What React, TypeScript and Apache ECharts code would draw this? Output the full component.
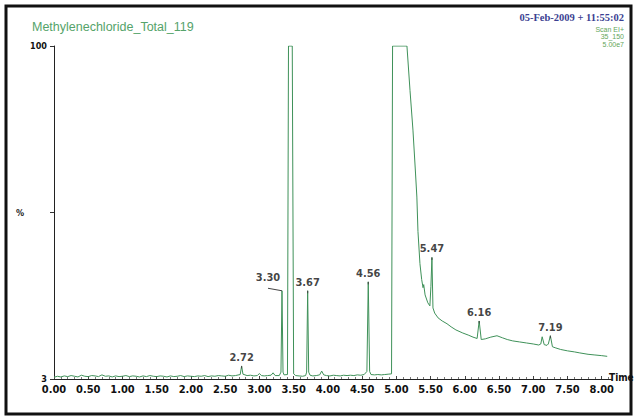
import React, { useEffect, useRef } from "react";
import * as echarts from "echarts";

const title = "Methylenechloride_Total_119";
const dateText = "05-Feb-2009 + 11:55:02";
const scanInfo = ["Scan EI+", "35_150", "5.00e7"];

const xTicks = [0, 0.5, 1, 1.5, 2, 2.5, 3, 3.5, 4, 4.5, 5, 5.5, 6, 6.5, 7, 7.5, 8];
const yLabels = [3, 100];

// chromatogram trace [time, %]
const trace: [number, number][] = [
  [0.0, 3.5], [0.05, 3.8], [0.1, 3.6], [0.15, 3.9], [0.2, 3.7], [0.25, 4.0], [0.3, 3.8], [0.35, 3.6],
  [0.4, 4.1], [0.45, 3.8], [0.5, 3.7], [0.55, 4.0], [0.6, 3.9], [0.65, 3.7], [0.7, 4.2], [0.75, 3.8],
  [0.8, 3.9], [0.85, 3.6], [0.9, 3.9], [0.95, 3.7], [1.0, 3.8], [1.05, 4.0], [1.1, 3.7], [1.15, 3.9],
  [1.2, 3.8], [1.25, 3.6], [1.3, 3.9], [1.35, 3.7], [1.4, 4.0], [1.45, 3.8], [1.5, 3.7], [1.55, 3.9],
  [1.6, 3.8], [1.65, 3.6], [1.7, 3.9], [1.75, 3.7], [1.8, 3.8], [1.85, 4.0], [1.9, 3.7], [1.95, 3.9],
  [2.0, 3.8], [2.05, 3.7], [2.1, 3.9], [2.15, 3.8], [2.2, 4.0], [2.25, 3.7], [2.3, 3.9], [2.35, 3.8],
  [2.4, 4.0], [2.45, 3.9], [2.5, 3.8], [2.55, 4.1], [2.6, 3.9], [2.65, 4.0], [2.72, 4.3], [2.74, 6.8],
  [2.76, 4.4], [2.82, 4.0], [2.87, 4.1], [2.92, 3.9], [2.97, 4.0], [3.0, 4.6], [3.03, 4.0], [3.07, 3.9],
  [3.12, 4.0], [3.17, 4.1], [3.2, 4.8], [3.23, 4.0], [3.29, 4.0], [3.315, 5.0], [3.33, 28.7], [3.345, 5.0],
  [3.36, 4.2], [3.41, 4.3], [3.425, 100], [3.48, 100], [3.5, 4.5], [3.53, 4.0], [3.58, 3.9], [3.63, 3.8],
  [3.675, 4.0], [3.69, 5.0], [3.705, 28.7], [3.72, 5.0], [3.74, 4.1], [3.78, 3.9], [3.83, 4.0], [3.88, 4.2],
  [3.91, 5.3], [3.94, 4.2], [3.98, 4.0], [4.03, 3.9], [4.08, 4.1], [4.13, 4.0], [4.18, 3.9], [4.23, 4.1],
  [4.28, 4.0], [4.33, 4.1], [4.38, 4.0], [4.43, 4.2], [4.48, 4.1], [4.53, 4.3], [4.57, 5.2], [4.59, 31.3],
  [4.61, 5.2], [4.63, 4.3], [4.68, 4.2], [4.73, 4.3], [4.78, 4.2], [4.83, 4.3], [4.88, 4.4], [4.93, 4.5],
  [4.945, 100], [5.155, 100], [5.2, 87], [5.243, 75.5], [5.28, 63], [5.3, 56], [5.316, 46], [5.345, 36.6],
  [5.37, 32], [5.39, 29.6], [5.4, 30.5], [5.42, 27.5], [5.46, 25.2], [5.49, 24.3], [5.505, 30], [5.52, 38.4],
  [5.535, 23.7], [5.56, 22.2], [5.61, 20.8], [5.67, 19.9], [5.74, 19.1], [5.8, 18.2], [5.87, 17.3], [5.97, 16.4],
  [6.05, 15.8], [6.12, 15.2], [6.18, 14.8], [6.21, 19.9], [6.24, 14.5], [6.3, 14.7], [6.38, 15.2], [6.47, 15.6],
  [6.55, 15.0], [6.62, 14.5], [6.7, 14.1], [6.8, 13.8], [6.9, 13.5], [7.0, 13.2], [7.08, 12.9], [7.11, 13.2],
  [7.13, 15.3], [7.16, 13.0], [7.2, 12.8], [7.22, 13.2], [7.25, 15.6], [7.28, 12.4], [7.32, 12.1], [7.4, 11.6],
  [7.5, 11.2], [7.6, 10.9], [7.68, 10.6], [7.8, 10.2], [7.9, 10.0], [8.0, 9.8], [8.08, 9.6],
];

const peakTimes = [2.74, 3.33, 3.705, 4.59, 5.52, 6.21, 7.25];
const peakValues = [6.8, 28.7, 28.7, 31.3, 38.4, 19.9, 15.6];
const peakLabels = ["2.72", "3.30", "3.67", "4.56", "5.47", "6.16", "7.19"];

const GREEN = "#3f9159";
const FONT = "'Liberation Sans Narrow', 'DejaVu Sans Condensed', 'Liberation Sans', sans-serif";

export default function App() {
  const ref = useRef<HTMLDivElement>(null);
  useEffect(() => {
    if (!ref.current) return;
    const chart = echarts.init(ref.current, null, { renderer: "svg" });
    const labelData = peakTimes.map((t, i) => {
      const item: any = { value: [t, peakValues[i]], name: peakLabels[i] };
      if (peakLabels[i] === "3.30") {
        item.label = { offset: [-14, -5] };
      }
      return item;
    });
    chart.setOption({
      animation: false,
      backgroundColor: "#ffffff",
      grid: { left: 54, right: 24, top: 46, bottom: 39, outerBoundsMode: "none", containLabel: false },
      xAxis: {
        type: "value",
        min: 0,
        max: 8.15,
        interval: 0.5,
        name: "Time",
        nameLocation: "end",
        nameGap: -3,
        nameTextStyle: { fontFamily: FONT, fontWeight: "bold", fontSize: 10, color: "#111", verticalAlign: "bottom", padding: [0, 0, -3, 0] },
        axisLine: { show: true, lineStyle: { color: "#222", width: 1 } },
        axisTick: { show: true, inside: true, length: 3, lineStyle: { color: "#444" }, customValues: xTicks },
        minorTick: { show: true, splitNumber: 5, length: 2, lineStyle: { color: "#777" } },
        axisLabel: {
          customValues: xTicks,
          formatter: (v: number) => v.toFixed(2),
          fontFamily: FONT,
          fontWeight: "bold",
          fontSize: 11,
          color: "#111",
          margin: 5,
        },
        splitLine: { show: false },
      },
      yAxis: {
        type: "value",
        min: 3,
        max: 100,
        name: "%",
        nameLocation: "middle",
        nameRotate: 0,
        nameGap: 9,
        nameTextStyle: { fontFamily: FONT, fontWeight: "bold", fontSize: 9, color: "#222" },
        axisLine: { show: true, lineStyle: { color: "#222", width: 1 } },
        axisTick: { show: true, length: 4, customValues: [3, 51.5, 100], lineStyle: { color: "#333" } },
        axisLabel: {
          customValues: yLabels,
          fontFamily: FONT,
          fontWeight: "bold",
          fontSize: 9,
          color: "#111",
          margin: 7,
        },
        splitLine: { show: false },
      },
      graphic: [
        {
          type: "rect",
          shape: { x: 6, y: 6, width: 625, height: 408 },
          style: { fill: "none", stroke: "#111", lineWidth: 3 },
          silent: true,
        },
        {
          type: "text",
          x: 32,
          y: 27,
          style: { text: title, fill: "#55a36a", font: "12.5px 'Liberation Sans', Arial, sans-serif", verticalAlign: "middle" },
        },
        {
          type: "text",
          x: 624,
          y: 17,
          style: { text: dateText, fill: "#3b3f92", font: "bold 10.5px 'Liberation Serif', 'Times New Roman', serif", align: "right", verticalAlign: "middle" },
        },
        ...scanInfo.map((s, i) => ({
          type: "text",
          x: 624,
          y: 29 + i * 7.5,
          style: { text: s, fill: "#62a65a", font: "7px 'Liberation Sans', Arial, sans-serif", align: "right", verticalAlign: "middle" },
        })),
      ],
      series: [
        {
          type: "line",
          data: trace,
          showSymbol: false,
          symbol: "none",
          lineStyle: { color: GREEN, width: 1 },
          z: 3,
        },
        {
          type: "scatter",
          data: labelData,
          symbolSize: 0,
          silent: true,
          label: {
            show: true,
            position: "top",
            distance: 3,
            formatter: (p: any) => p.name,
            fontFamily: FONT,
            fontWeight: "bold",
            fontSize: 11,
            color: "#111",
          },
          labelLine: { show: true, lineStyle: { color: "#444", width: 1 } },
          z: 4,
        },
      ],
    });
    return () => chart.dispose();
  }, []);
  return <div ref={ref} style={{ position: "fixed", left: 0, top: 0, width: 636, height: 418 }} />;
}
